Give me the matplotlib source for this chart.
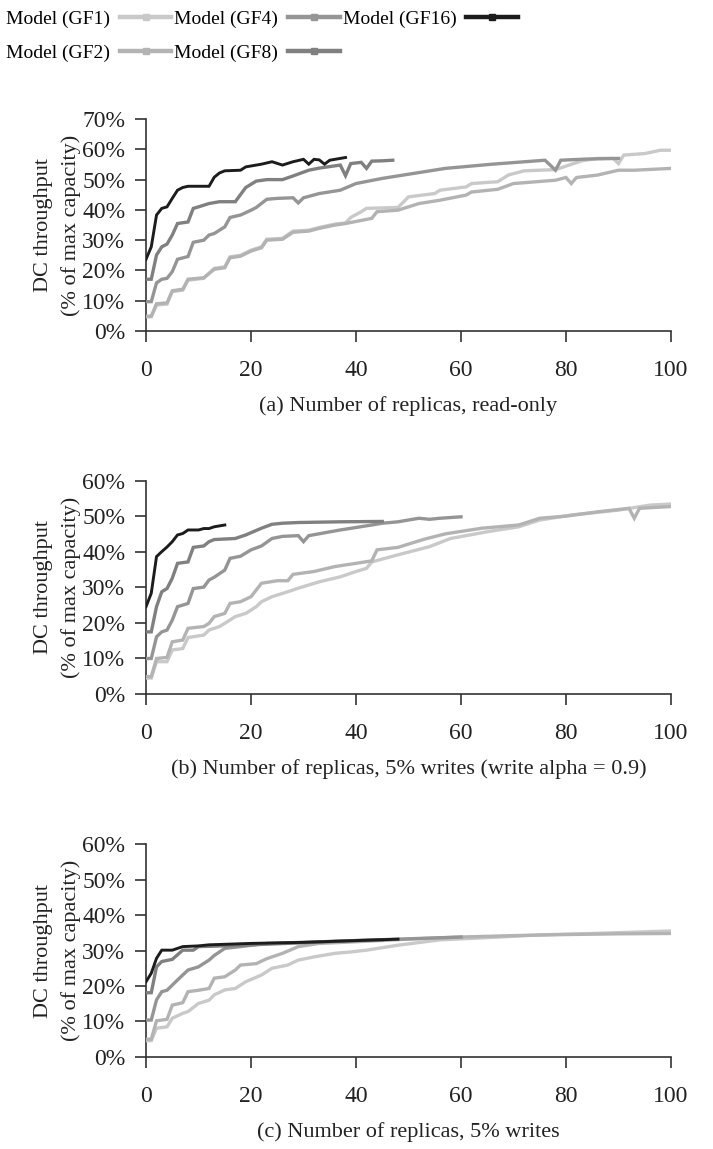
import matplotlib
matplotlib.use("Agg")
import matplotlib.pyplot as plt
from matplotlib.lines import Line2D
from matplotlib.ticker import FuncFormatter

plt.rcParams['font.family'] = ['Liberation Serif', 'DejaVu Serif']

# series labels and grey levels
labels = ['Model (GF1)', 'Model (GF2)', 'Model (GF4)', 'Model (GF8)', 'Model (GF16)']
colors = ['#c9c9c9', '#b3b3b3', '#959595', '#808080', '#1c1c1c']

# (a) read-only
a_gf1_x = [0, 1, 2, 4, 5, 7, 8, 11, 13, 15, 16, 18, 20, 22, 23, 26, 28, 31, 33, 36, 38, 39, 41, 42, 48, 50,
           55, 56, 61, 62, 67, 69, 72, 78, 83, 86, 89, 90, 91, 95, 98, 100]
a_gf1_y = [4.7, 4.7, 8.6, 8.9, 13, 13.5, 16.8, 17.4, 20.7, 21.2, 24.5, 25, 26.7, 27.8, 30.3, 30.6, 33, 33.3,
           34.2, 35.3, 35.7, 37.5, 39.4, 40.5, 40.8, 44.3, 45.4, 46.5, 47.6, 48.7, 49.3, 51.5, 52.9, 53.3,
           56.2, 57, 57, 55.3, 58.1, 58.6, 59.7, 59.7]
a_gf2_x = [0, 1, 2, 4, 5, 7, 8, 11, 13, 15, 16, 18, 20, 22, 23, 26, 28, 31, 33, 36, 38, 43, 44, 48, 52, 56,
           61, 62, 67, 70, 78, 80, 81, 82, 86, 90, 93, 100]
a_gf2_y = [4.9, 4.9, 9.0, 9.3, 13.3, 13.8, 17.1, 17.6, 20.4, 20.9, 24.2, 24.7, 26.4, 27.5, 30.0, 30.3, 32.6,
           33.0, 33.9, 35.0, 35.5, 37.2, 39.4, 39.9, 42.1, 43.2, 44.9, 45.9, 46.8, 48.7, 49.8, 50.7, 48.7,
           50.7, 51.5, 53.1, 53.1, 53.7]
a_gf4_x = [0, 1, 2, 3, 4, 5, 6, 8, 9, 11, 12, 13, 15, 16, 18, 20, 21, 23, 25, 28, 29, 30, 33, 37, 40, 45,
           49, 57, 66, 76, 78, 79, 84, 90]
a_gf4_y = [9.7, 9.7, 15.9, 17.1, 17.4, 19.6, 23.7, 24.6, 29.3, 30, 31.7, 32.2, 34.4, 37.5, 38.3, 39.9, 40.8,
           43.5, 43.8, 44, 42.3, 44, 45.4, 46.5, 48.7, 50.4, 51.5, 53.7, 55.1, 56.4, 53.1, 56.4, 56.8, 57]
a_gf8_x = [0, 1, 2, 3, 4, 5, 6, 8, 9, 10, 12, 14, 17, 19, 21, 23, 26, 28, 31, 33, 37, 38, 39, 41, 42, 43,
           45, 47]
a_gf8_y = [17.1, 17.1, 25.1, 27.8, 28.7, 31.7, 35.5, 36, 40.5, 41, 42.1, 42.7, 42.7, 47.4, 49.5, 50, 50,
           51.2, 53.1, 53.8, 54.8, 51.3, 55.3, 55.7, 53.7, 56.1, 56.2, 56.4]
a_gf16_x = [0, 1, 2, 3, 4, 5, 6, 7, 8, 12, 13, 14, 15, 18, 19, 22, 24, 26, 28, 30, 31, 32, 33, 34, 35, 36, 38]
a_gf16_y = [23.7, 27.8, 38.3, 40.5, 41, 43.8, 46.5, 47.4, 47.8, 47.8, 50.8, 52.2, 52.9, 53.1, 54.2, 55.1,
            55.9, 54.8, 55.9, 56.7, 55.1, 56.7, 56.5, 55.1, 56.4, 56.7, 57.3]

# (b) 5% writes, write alpha = 0.9
b_gf1_x = [0, 1, 2, 4, 5, 7, 8, 11, 12, 14, 15, 17, 19, 21, 22, 24, 27, 29, 31, 33, 37, 40, 42, 43, 48, 54,
           58, 65, 71, 75, 81, 90, 96, 100]
b_gf1_y = [4.5, 4.5, 9.1, 9.1, 12.4, 12.8, 15.9, 16.6, 18, 19, 19.9, 21.8, 22.7, 24.6, 26, 27.4, 28.8, 29.8,
           30.7, 31.6, 33, 34.5, 35.4, 37.2, 39.2, 41.5, 43.8, 45.7, 47.1, 49, 50.4, 51.8, 53.2, 53.5]
b_gf2_x = [0, 1, 2, 4, 5, 7, 8, 11, 12, 13, 15, 16, 18, 20, 22, 25, 27, 28, 32, 36, 40, 43, 44, 48, 53, 57,
           64, 71, 75, 80, 86, 92, 93, 94, 100]
b_gf2_y = [4.9, 4.9, 10, 10.3, 14.7, 15.2, 18.5, 19, 19.9, 21.8, 22.7, 25.5, 26, 27.4, 31.2, 31.9, 31.9,
           33.7, 34.5, 35.9, 36.8, 37.5, 40.6, 41.3, 43.6, 45.1, 46.7, 47.6, 49.5, 50.1, 51.3, 52.3, 49.5,
           52.3, 52.8]
b_gf4_x = [0, 1, 2, 3, 4, 5, 6, 8, 9, 11, 12, 13, 15, 16, 18, 20, 22, 24, 26, 29, 30, 31, 37, 43, 45, 48,
           52, 54, 56, 60]
b_gf4_y = [10, 10, 16.1, 17.5, 18, 20.8, 24.6, 25.5, 29.7, 30.1, 32.1, 32.9, 34.9, 38.2, 38.8, 40.6, 41.7,
           43.8, 44.4, 44.6, 42.9, 44.6, 46.2, 47.6, 48.1, 48.5, 49.5, 49.2, 49.5, 49.9]
b_gf8_x = [0, 1, 2, 3, 4, 5, 6, 8, 9, 11, 12, 13, 17, 19, 22, 24, 26, 29, 37, 45]
b_gf8_y = [17.5, 17.5, 24.6, 28.8, 29.7, 32.6, 36.8, 37.2, 41.3, 41.7, 42.9, 43.5, 43.8, 44.8, 46.7, 47.8,
           48.1, 48.3, 48.5, 48.6]
b_gf16_x = [0, 1, 2, 3, 4, 5, 6, 7, 8, 10, 11, 12, 13, 15]
b_gf16_y = [24.6, 28.4, 38.7, 40.1, 41.4, 42.9, 44.8, 45.2, 46.2, 46.2, 46.6, 46.6, 47.1, 47.6]

# (c) 5% writes
c_gf1_x = [0, 1, 2, 4, 5, 7, 8, 10, 12, 13, 15, 17, 19, 22, 24, 27, 29, 32, 36, 39, 42, 48, 56, 66, 75, 85,
           100]
c_gf1_y = [4.6, 4.6, 8.1, 8.5, 10.9, 12.3, 12.8, 15.1, 16, 17.5, 18.9, 19.3, 21.2, 23.1, 25, 25.9, 27.3,
           28.2, 29.2, 29.6, 30.1, 31.5, 33, 33.7, 34.4, 34.8, 35.5]
c_gf2_x = [0, 1, 2, 4, 5, 7, 8, 10, 12, 13, 15, 17, 18, 21, 23, 26, 29, 33, 39, 50, 60, 70, 80, 90, 100]
c_gf2_y = [5, 5, 10.2, 10.6, 14.6, 15.3, 18.4, 18.8, 19.3, 22.2, 22.6, 24.5, 25.9, 26.3, 27.7, 29.2, 31.1,
           32, 32.4, 33.2, 33.8, 34.2, 34.5, 34.7, 34.8]
c_gf4_x = [0, 1, 2, 3, 4, 6, 8, 10, 12, 13, 15, 18, 23, 30, 40, 50, 60]
c_gf4_y = [10.4, 10.4, 16.1, 18.4, 18.8, 21.7, 24.5, 25.4, 27.3, 28.6, 30.6, 31.1, 32, 32.3, 32.8, 33.3, 33.8]
c_gf8_x = [0, 1, 2, 3, 5, 7, 9, 10, 15, 20, 30, 40, 45]
c_gf8_y = [18.1, 18.1, 25.4, 26.9, 27.5, 30.1, 30.1, 31.1, 31.3, 31.6, 32.2, 32.8, 33]
c_gf16_x = [0, 1, 2, 3, 5, 7, 10, 12, 20, 30, 40, 48]
c_gf16_y = [21.2, 23.6, 27.8, 30.1, 30.1, 31.1, 31.3, 31.6, 32, 32.3, 32.8, 33.2]

panels = [
    ([(a_gf1_x, a_gf1_y), (a_gf2_x, a_gf2_y), (a_gf4_x, a_gf4_y), (a_gf8_x, a_gf8_y), (a_gf16_x, a_gf16_y)],
     70, '(a) Number of replicas, read-only'),
    ([(b_gf1_x, b_gf1_y), (b_gf2_x, b_gf2_y), (b_gf4_x, b_gf4_y), (b_gf8_x, b_gf8_y), (b_gf16_x, b_gf16_y)],
     60, '(b) Number of replicas, 5% writes (write alpha = 0.9)'),
    ([(c_gf1_x, c_gf1_y), (c_gf2_x, c_gf2_y), (c_gf4_x, c_gf4_y), (c_gf8_x, c_gf8_y), (c_gf16_x, c_gf16_y)],
     60, '(c) Number of replicas, 5% writes'),
]

fig = plt.figure(figsize=(7.13, 11.49), dpi=100)
boxes = [(0.2048, 0.7119, 0.7363, 0.1845),
         (0.2048, 0.3960, 0.7363, 0.1854),
         (0.2048, 0.0801, 0.7363, 0.1853)]

pct = FuncFormatter(lambda v, p: f'{v:.0f}%')
for box, (series, ymax, caption) in zip(boxes, panels):
    ax = fig.add_axes(box)
    for (xs, ys), c in zip(series, colors):
        lw = 2.1 if c == '#1c1c1c' else 2.4
        ax.plot(xs, ys, color=c, lw=lw, solid_joinstyle='miter', zorder=3)
    ax.set_xlim(0, 100)
    ax.set_ylim(0, ymax)
    ax.set_xticks(range(0, 101, 20))
    ax.set_yticks(range(0, ymax + 1, 10))
    ax.yaxis.set_major_formatter(pct)
    for s in ('top', 'right'):
        ax.spines[s].set_visible(False)
    for s in ('left', 'bottom'):
        ax.spines[s].set_linewidth(1.2)
        ax.spines[s].set_color('#333333')
        ax.spines[s].set_zorder(2)
    ax.tick_params(direction='out', length=8, width=1.2, color='#333333', labelsize=17,
                   labelcolor='#222222')
    ax.tick_params(axis='x', pad=13)
    ax.tick_params(axis='y', pad=7)
    ax.set_ylabel('DC throughput\n(% of max capacity)', fontsize=16, color='#222222',
                  linespacing=1.5, labelpad=1)
    ax.set_xlabel(caption, fontsize=16, color='#222222', labelpad=11)

handles = [Line2D([], [], color=c, lw=3.2, marker='s', markersize=5, markerfacecolor=c,
                  markeredgecolor=c) for c in colors]
fig.legend(handles, labels, loc='upper left', bbox_to_anchor=(0.0, 0.996), ncol=3, frameon=False,
           markerfirst=False, fontsize=14, handlelength=2.67, handletextpad=0.5,
           columnspacing=0.15, labelspacing=0.85, borderaxespad=0.2, borderpad=0.1)

fig.savefig('out.png', dpi=100)
